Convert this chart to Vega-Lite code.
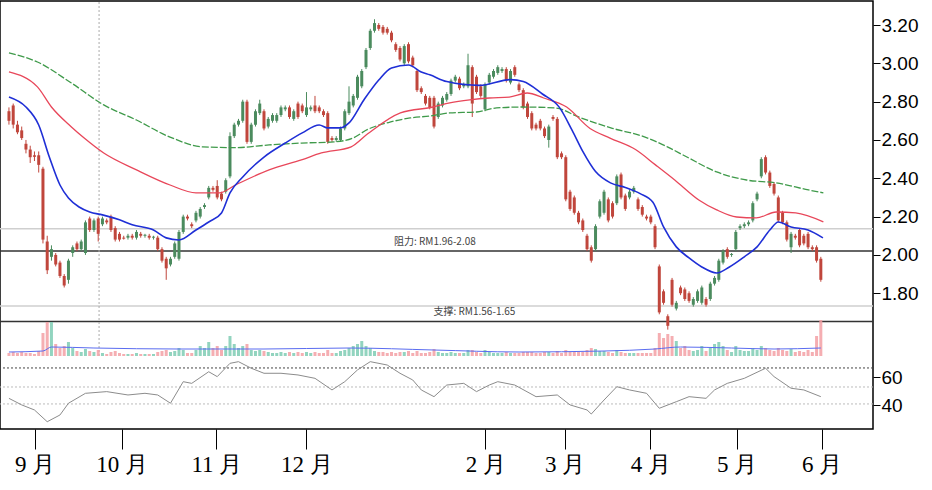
{
"$schema":"https://vega.github.io/schema/vega-lite/v6.json",
"width":873,"height":428,
"autosize":{"type":"none"},
"padding":{"left":0,"top":1,"right":59,"bottom":61},
"background":"white",
"config":{"view":{"stroke":"#000","strokeWidth":1.5},"axis":{"labelFont":"Liberation Sans","labelColor":"#000","tickColor":"#000","domain":false,"grid":false}},
"datasets":{
"k":[
{"i":0,"o":2.75,"c":2.70,"h":2.77,"l":2.68,"v":9},
{"i":1,"o":2.78,"c":2.68,"h":2.79,"l":2.66,"v":12},
{"i":2,"o":2.68,"c":2.64,"h":2.70,"l":2.63,"v":9},
{"i":3,"o":2.65,"c":2.61,"h":2.67,"l":2.60,"v":12},
{"i":4,"o":2.58,"c":2.55,"h":2.60,"l":2.53,"v":9},
{"i":5,"o":2.55,"c":2.51,"h":2.57,"l":2.48,"v":9},
{"i":6,"o":2.52,"c":2.512,"h":2.54,"l":2.49,"v":6},
{"i":7,"o":2.52,"c":2.47,"h":2.54,"l":2.43,"v":15},
{"i":8,"o":2.45,"c":2.08,"h":2.46,"l":2.06,"v":69},
{"i":9,"o":2.07,"c":1.92,"h":2.10,"l":1.90,"v":102},
{"i":10,"o":1.99,"c":2.03,"h":2.05,"l":1.97,"v":102},
{"i":11,"o":2.00,"c":1.95,"h":2.01,"l":1.94,"v":36},
{"i":12,"o":1.96,"c":1.89,"h":1.97,"l":1.88,"v":24},
{"i":13,"o":1.89,"c":1.84,"h":1.90,"l":1.83,"v":30},
{"i":14,"o":1.87,"c":1.97,"h":1.98,"l":1.85,"v":42},
{"i":15,"o":2.01,"c":2.04,"h":2.05,"l":1.99,"v":24},
{"i":16,"o":2.06,"c":2.03,"h":2.07,"l":2.02,"v":15},
{"i":17,"o":2.03,"c":2.07,"h":2.08,"l":2.02,"v":12},
{"i":18,"o":2.01,"c":2.17,"h":2.18,"l":2.00,"v":21},
{"i":19,"o":2.19,"c":2.13,"h":2.20,"l":2.12,"v":15},
{"i":20,"o":2.13,"c":2.18,"h":2.19,"l":2.12,"v":12},
{"i":21,"o":2.19,"c":2.11,"h":2.20,"l":2.07,"v":18},
{"i":22,"o":2.16,"c":2.19,"h":2.20,"l":2.15,"v":9},
{"i":23,"o":2.18,"c":2.17,"h":2.19,"l":2.16,"v":6},
{"i":24,"o":2.20,"c":2.13,"h":2.21,"l":2.12,"v":12},
{"i":25,"o":2.14,"c":2.08,"h":2.15,"l":2.07,"v":15},
{"i":26,"o":2.11,"c":2.08,"h":2.12,"l":2.07,"v":9},
{"i":27,"o":2.09,"c":2.085,"h":2.10,"l":2.08,"v":6},
{"i":28,"o":2.09,"c":2.10,"h":2.11,"l":2.08,"v":6},
{"i":29,"o":2.10,"c":2.09,"h":2.11,"l":2.08,"v":6},
{"i":30,"o":2.09,"c":2.12,"h":2.13,"l":2.08,"v":9},
{"i":31,"o":2.11,"c":2.10,"h":2.12,"l":2.09,"v":6},
{"i":32,"o":2.10,"c":2.105,"h":2.11,"l":2.09,"v":6},
{"i":33,"o":2.10,"c":2.09,"h":2.11,"l":2.08,"v":6},
{"i":34,"o":2.09,"c":2.095,"h":2.10,"l":2.08,"v":6},
{"i":35,"o":2.09,"c":2.03,"h":2.10,"l":2.02,"v":12},
{"i":36,"o":2.03,"c":1.97,"h":2.04,"l":1.96,"v":15},
{"i":37,"o":1.98,"c":1.93,"h":1.99,"l":1.87,"v":18},
{"i":38,"o":1.95,"c":1.98,"h":1.99,"l":1.94,"v":12},
{"i":39,"o":1.99,"c":2.06,"h":2.07,"l":1.98,"v":15},
{"i":40,"o":1.98,"c":2.12,"h":2.13,"l":1.97,"v":24},
{"i":41,"o":2.12,"c":2.20,"h":2.21,"l":2.11,"v":18},
{"i":42,"o":2.20,"c":2.19,"h":2.21,"l":2.18,"v":9},
{"i":43,"o":2.16,"c":2.15,"h":2.17,"l":2.14,"v":9},
{"i":44,"o":2.18,"c":2.22,"h":2.23,"l":2.17,"v":18},
{"i":45,"o":2.20,"c":2.24,"h":2.25,"l":2.19,"v":30},
{"i":46,"o":2.25,"c":2.26,"h":2.27,"l":2.24,"v":24},
{"i":47,"o":2.30,"c":2.35,"h":2.36,"l":2.29,"v":42},
{"i":48,"o":2.35,"c":2.34,"h":2.36,"l":2.33,"v":24},
{"i":49,"o":2.36,"c":2.30,"h":2.39,"l":2.29,"v":30},
{"i":50,"o":2.32,"c":2.29,"h":2.33,"l":2.28,"v":18},
{"i":51,"o":2.33,"c":2.39,"h":2.40,"l":2.32,"v":30},
{"i":52,"o":2.41,"c":2.62,"h":2.64,"l":2.40,"v":60},
{"i":53,"o":2.62,"c":2.68,"h":2.69,"l":2.61,"v":36},
{"i":54,"o":2.68,"c":2.70,"h":2.71,"l":2.67,"v":24},
{"i":55,"o":2.70,"c":2.80,"h":2.81,"l":2.69,"v":30},
{"i":56,"o":2.80,"c":2.59,"h":2.81,"l":2.58,"v":36},
{"i":57,"o":2.59,"c":2.68,"h":2.69,"l":2.58,"v":18},
{"i":58,"o":2.68,"c":2.75,"h":2.76,"l":2.67,"v":15},
{"i":59,"o":2.74,"c":2.79,"h":2.81,"l":2.73,"v":18},
{"i":60,"o":2.75,"c":2.66,"h":2.76,"l":2.65,"v":15},
{"i":61,"o":2.67,"c":2.71,"h":2.72,"l":2.66,"v":12},
{"i":62,"o":2.70,"c":2.73,"h":2.74,"l":2.69,"v":9},
{"i":63,"o":2.70,"c":2.73,"h":2.74,"l":2.69,"v":9},
{"i":64,"o":2.73,"c":2.77,"h":2.78,"l":2.72,"v":12},
{"i":65,"o":2.76,"c":2.77,"h":2.78,"l":2.75,"v":9},
{"i":66,"o":2.77,"c":2.72,"h":2.78,"l":2.71,"v":12},
{"i":67,"o":2.71,"c":2.75,"h":2.76,"l":2.70,"v":9},
{"i":68,"o":2.79,"c":2.72,"h":2.80,"l":2.71,"v":12},
{"i":69,"o":2.78,"c":2.75,"h":2.79,"l":2.74,"v":9},
{"i":70,"o":2.73,"c":2.77,"h":2.85,"l":2.72,"v":12},
{"i":71,"o":2.76,"c":2.77,"h":2.78,"l":2.75,"v":9},
{"i":72,"o":2.78,"c":2.75,"h":2.83,"l":2.74,"v":12},
{"i":73,"o":2.77,"c":2.75,"h":2.78,"l":2.74,"v":9},
{"i":74,"o":2.75,"c":2.73,"h":2.76,"l":2.72,"v":9},
{"i":75,"o":2.74,"c":2.59,"h":2.75,"l":2.58,"v":18},
{"i":76,"o":2.61,"c":2.60,"h":2.62,"l":2.59,"v":9},
{"i":77,"o":2.60,"c":2.61,"h":2.62,"l":2.59,"v":9},
{"i":78,"o":2.60,"c":2.66,"h":2.67,"l":2.59,"v":15},
{"i":79,"o":2.66,"c":2.75,"h":2.76,"l":2.65,"v":18},
{"i":80,"o":2.74,"c":2.80,"h":2.88,"l":2.73,"v":24},
{"i":81,"o":2.78,"c":2.83,"h":2.84,"l":2.77,"v":30},
{"i":82,"o":2.82,"c":2.93,"h":2.94,"l":2.81,"v":36},
{"i":83,"o":2.88,"c":2.96,"h":2.97,"l":2.87,"v":45},
{"i":84,"o":2.98,"c":3.07,"h":3.08,"l":2.97,"v":30},
{"i":85,"o":3.08,"c":3.17,"h":3.18,"l":3.07,"v":24},
{"i":86,"o":3.17,"c":3.21,"h":3.23,"l":3.16,"v":15},
{"i":87,"o":3.20,"c":3.18,"h":3.21,"l":3.17,"v":12},
{"i":88,"o":3.19,"c":3.16,"h":3.20,"l":3.15,"v":12},
{"i":89,"o":3.18,"c":3.16,"h":3.19,"l":3.15,"v":9},
{"i":90,"o":3.16,"c":3.12,"h":3.17,"l":3.11,"v":12},
{"i":91,"o":3.10,"c":3.07,"h":3.11,"l":3.06,"v":9},
{"i":92,"o":3.08,"c":3.02,"h":3.09,"l":3.01,"v":12},
{"i":93,"o":3.00,"c":3.09,"h":3.10,"l":2.99,"v":12},
{"i":94,"o":3.10,"c":3.01,"h":3.11,"l":3.00,"v":15},
{"i":95,"o":3.03,"c":2.99,"h":3.04,"l":2.98,"v":9},
{"i":96,"o":2.96,"c":2.86,"h":2.97,"l":2.85,"v":15},
{"i":97,"o":2.87,"c":2.85,"h":2.88,"l":2.84,"v":9},
{"i":98,"o":2.83,"c":2.79,"h":2.84,"l":2.78,"v":9},
{"i":99,"o":2.82,"c":2.77,"h":2.83,"l":2.76,"v":12},
{"i":100,"o":2.82,"c":2.67,"h":2.83,"l":2.66,"v":21},
{"i":101,"o":2.72,"c":2.79,"h":2.80,"l":2.71,"v":12},
{"i":102,"o":2.78,"c":2.82,"h":2.83,"l":2.77,"v":9},
{"i":103,"o":2.81,"c":2.84,"h":2.85,"l":2.80,"v":9},
{"i":104,"o":2.84,"c":2.91,"h":2.92,"l":2.83,"v":12},
{"i":105,"o":2.91,"c":2.93,"h":2.94,"l":2.90,"v":9},
{"i":106,"o":2.92,"c":2.87,"h":2.93,"l":2.86,"v":9},
{"i":107,"o":2.88,"c":2.89,"h":2.90,"l":2.87,"v":9},
{"i":108,"o":2.88,"c":2.99,"h":3.05,"l":2.87,"v":18},
{"i":109,"o":2.98,"c":2.79,"h":2.99,"l":2.72,"v":18},
{"i":110,"o":2.93,"c":2.85,"h":2.94,"l":2.84,"v":12},
{"i":111,"o":2.88,"c":2.83,"h":2.89,"l":2.82,"v":9},
{"i":112,"o":2.76,"c":2.89,"h":2.90,"l":2.75,"v":18},
{"i":113,"o":2.90,"c":2.94,"h":2.95,"l":2.89,"v":12},
{"i":114,"o":2.93,"c":2.96,"h":2.97,"l":2.92,"v":9},
{"i":115,"o":2.95,"c":2.98,"h":2.99,"l":2.94,"v":9},
{"i":116,"o":2.96,"c":2.97,"h":2.98,"l":2.95,"v":9},
{"i":117,"o":2.97,"c":2.91,"h":2.98,"l":2.90,"v":12},
{"i":118,"o":2.90,"c":2.96,"h":2.97,"l":2.89,"v":9},
{"i":119,"o":2.98,"c":2.94,"h":2.99,"l":2.93,"v":9},
{"i":120,"o":2.89,"c":2.86,"h":2.90,"l":2.85,"v":9},
{"i":121,"o":2.86,"c":2.77,"h":2.87,"l":2.76,"v":12},
{"i":122,"o":2.79,"c":2.72,"h":2.80,"l":2.71,"v":12},
{"i":123,"o":2.74,"c":2.66,"h":2.75,"l":2.65,"v":12},
{"i":124,"o":2.68,"c":2.66,"h":2.69,"l":2.65,"v":9},
{"i":125,"o":2.70,"c":2.66,"h":2.71,"l":2.65,"v":9},
{"i":126,"o":2.66,"c":2.62,"h":2.67,"l":2.61,"v":12},
{"i":127,"o":2.60,"c":2.67,"h":2.68,"l":2.56,"v":12},
{"i":128,"o":2.72,"c":2.71,"h":2.73,"l":2.70,"v":9},
{"i":129,"o":2.71,"c":2.51,"h":2.72,"l":2.50,"v":15},
{"i":130,"o":2.53,"c":2.51,"h":2.54,"l":2.50,"v":9},
{"i":131,"o":2.51,"c":2.29,"h":2.52,"l":2.28,"v":18},
{"i":132,"o":2.33,"c":2.24,"h":2.34,"l":2.23,"v":12},
{"i":133,"o":2.30,"c":2.22,"h":2.31,"l":2.21,"v":12},
{"i":134,"o":2.22,"c":2.17,"h":2.23,"l":2.16,"v":12},
{"i":135,"o":2.18,"c":2.13,"h":2.19,"l":2.12,"v":12},
{"i":136,"o":2.10,"c":2.03,"h":2.11,"l":2.02,"v":18},
{"i":137,"o":2.04,"c":1.97,"h":2.05,"l":1.96,"v":24},
{"i":138,"o":2.03,"c":2.15,"h":2.16,"l":2.02,"v":21},
{"i":139,"o":2.20,"c":2.28,"h":2.29,"l":2.19,"v":15},
{"i":140,"o":2.22,"c":2.33,"h":2.34,"l":2.21,"v":15},
{"i":141,"o":2.29,"c":2.18,"h":2.30,"l":2.17,"v":12},
{"i":142,"o":2.27,"c":2.20,"h":2.28,"l":2.19,"v":9},
{"i":143,"o":2.27,"c":2.41,"h":2.42,"l":2.26,"v":18},
{"i":144,"o":2.42,"c":2.30,"h":2.43,"l":2.29,"v":12},
{"i":145,"o":2.31,"c":2.24,"h":2.32,"l":2.23,"v":9},
{"i":146,"o":2.30,"c":2.33,"h":2.34,"l":2.29,"v":9},
{"i":147,"o":2.33,"c":2.35,"h":2.36,"l":2.32,"v":9},
{"i":148,"o":2.29,"c":2.24,"h":2.30,"l":2.23,"v":9},
{"i":149,"o":2.25,"c":2.21,"h":2.26,"l":2.20,"v":9},
{"i":150,"o":2.20,"c":2.19,"h":2.21,"l":2.18,"v":9},
{"i":151,"o":2.20,"c":2.17,"h":2.21,"l":2.16,"v":9},
{"i":152,"o":2.15,"c":2.04,"h":2.16,"l":2.03,"v":24},
{"i":153,"o":1.94,"c":1.70,"h":1.95,"l":1.69,"v":69},
{"i":154,"o":1.81,"c":1.75,"h":1.82,"l":1.74,"v":54},
{"i":155,"o":1.68,"c":1.63,"h":1.69,"l":1.61,"v":66},
{"i":156,"o":1.87,"c":1.74,"h":1.88,"l":1.73,"v":60},
{"i":157,"o":1.72,"c":1.75,"h":1.76,"l":1.71,"v":45},
{"i":158,"o":1.83,"c":1.80,"h":1.84,"l":1.79,"v":24},
{"i":159,"o":1.82,"c":1.77,"h":1.83,"l":1.76,"v":30},
{"i":160,"o":1.80,"c":1.76,"h":1.81,"l":1.75,"v":18},
{"i":161,"o":1.74,"c":1.77,"h":1.78,"l":1.73,"v":15},
{"i":162,"o":1.76,"c":1.81,"h":1.82,"l":1.75,"v":18},
{"i":163,"o":1.75,"c":1.83,"h":1.84,"l":1.74,"v":30},
{"i":164,"o":1.77,"c":1.74,"h":1.78,"l":1.73,"v":15},
{"i":165,"o":1.77,"c":1.85,"h":1.86,"l":1.76,"v":24},
{"i":166,"o":1.85,"c":1.88,"h":1.89,"l":1.84,"v":36},
{"i":167,"o":1.87,"c":1.97,"h":1.98,"l":1.86,"v":42},
{"i":168,"o":1.96,"c":2.02,"h":2.03,"l":1.95,"v":30},
{"i":169,"o":2.03,"c":1.99,"h":2.04,"l":1.98,"v":18},
{"i":170,"o":2.00,"c":2.005,"h":2.01,"l":1.99,"v":12},
{"i":171,"o":2.03,"c":2.12,"h":2.13,"l":2.02,"v":30},
{"i":172,"o":2.14,"c":2.15,"h":2.16,"l":2.13,"v":18},
{"i":173,"o":2.15,"c":2.16,"h":2.17,"l":2.14,"v":15},
{"i":174,"o":2.16,"c":2.17,"h":2.18,"l":2.15,"v":15},
{"i":175,"o":2.18,"c":2.27,"h":2.28,"l":2.17,"v":24},
{"i":176,"o":2.29,"c":2.32,"h":2.33,"l":2.28,"v":18},
{"i":177,"o":2.41,"c":2.50,"h":2.51,"l":2.40,"v":30},
{"i":178,"o":2.51,"c":2.43,"h":2.52,"l":2.42,"v":24},
{"i":179,"o":2.43,"c":2.36,"h":2.44,"l":2.35,"v":18},
{"i":180,"o":2.37,"c":2.32,"h":2.38,"l":2.31,"v":15},
{"i":181,"o":2.30,"c":2.18,"h":2.31,"l":2.17,"v":24},
{"i":182,"o":2.22,"c":2.17,"h":2.23,"l":2.16,"v":18},
{"i":183,"o":2.17,"c":2.08,"h":2.18,"l":2.07,"v":15},
{"i":184,"o":2.04,"c":2.11,"h":2.12,"l":2.01,"v":21},
{"i":185,"o":2.10,"c":2.09,"h":2.11,"l":2.08,"v":12},
{"i":186,"o":2.13,"c":2.05,"h":2.14,"l":2.04,"v":15},
{"i":187,"o":2.10,"c":2.06,"h":2.11,"l":2.05,"v":12},
{"i":188,"o":2.11,"c":2.04,"h":2.12,"l":2.03,"v":18},
{"i":189,"o":2.04,"c":2.03,"h":2.05,"l":2.02,"v":12},
{"i":190,"o":2.04,"c":1.97,"h":2.05,"l":1.96,"v":60},
{"i":191,"o":1.98,"c":1.87,"h":1.99,"l":1.86,"v":108}
],
"ma20":[
{"i":0,"p":2.824},{"i":4,"p":2.772},{"i":7,"p":2.678},{"i":9.5,"p":2.511},{"i":12,"p":2.365},{"i":14,"p":2.297},{"i":16.5,"p":2.25},{"i":19,"p":2.224},{"i":22,"p":2.209},{"i":26,"p":2.183},{"i":29,"p":2.157},{"i":34,"p":2.13},{"i":37,"p":2.089},{"i":40,"p":2.078},{"i":44,"p":2.13},{"i":47,"p":2.172},{"i":50,"p":2.219},{"i":52,"p":2.324},{"i":55,"p":2.407},{"i":60,"p":2.511},{"i":65,"p":2.584},{"i":69,"p":2.637},{"i":73,"p":2.678},{"i":75,"p":2.663},{"i":78,"p":2.663},{"i":80,"p":2.689},{"i":83.5,"p":2.809},{"i":87,"p":2.913},{"i":90,"p":2.976},{"i":94,"p":2.991},{"i":97,"p":2.955},{"i":99,"p":2.94},{"i":103,"p":2.905},{"i":110.7,"p":2.885},{"i":118,"p":2.915},{"i":121,"p":2.905},{"i":125.5,"p":2.84},{"i":129.5,"p":2.77},{"i":132.5,"p":2.65},{"i":135,"p":2.54},{"i":138,"p":2.435},{"i":141.5,"p":2.376},{"i":145,"p":2.352},{"i":148.5,"p":2.32},{"i":151.5,"p":2.275},{"i":154,"p":2.146},{"i":157,"p":2.042},{"i":160,"p":1.984},{"i":163,"p":1.937},{"i":166.5,"p":1.906},{"i":169.5,"p":1.937},{"i":173,"p":1.99},{"i":176,"p":2.042},{"i":179,"p":2.13},{"i":181,"p":2.172},{"i":184,"p":2.146},{"i":188,"p":2.13},{"i":191.5,"p":2.089}
],
"ma60":[
{"i":0,"p":2.955},{"i":6.7,"p":2.877},{"i":10,"p":2.772},{"i":14.7,"p":2.668},{"i":17.7,"p":2.61},{"i":22.3,"p":2.532},{"i":30,"p":2.444},{"i":37.9,"p":2.365},{"i":44,"p":2.324},{"i":49.5,"p":2.324},{"i":53.3,"p":2.365},{"i":61.2,"p":2.444},{"i":68.8,"p":2.496},{"i":73.5,"p":2.532},{"i":80.5,"p":2.564},{"i":84.4,"p":2.632},{"i":92.1,"p":2.741},{"i":99.8,"p":2.772},{"i":103.7,"p":2.793},{"i":108.4,"p":2.809},{"i":113,"p":2.819},{"i":117.7,"p":2.824},{"i":121.9,"p":2.845},{"i":125.8,"p":2.819},{"i":131.2,"p":2.772},{"i":136.7,"p":2.66},{"i":141.4,"p":2.61},{"i":147.4,"p":2.55},{"i":152.1,"p":2.47},{"i":156.7,"p":2.39},{"i":162.3,"p":2.287},{"i":166.5,"p":2.235},{"i":171.2,"p":2.198},{"i":175.8,"p":2.193},{"i":180.5,"p":2.224},{"i":185.1,"p":2.219},{"i":191.6,"p":2.172}
],
"ma120":[
{"i":0,"p":3.054},{"i":6.7,"p":3.007},{"i":14.7,"p":2.897},{"i":22.3,"p":2.783},{"i":30,"p":2.704},{"i":37.9,"p":2.615},{"i":45.6,"p":2.564},{"i":53.3,"p":2.56},{"i":61.2,"p":2.574},{"i":68.8,"p":2.584},{"i":76.5,"p":2.59},{"i":80.9,"p":2.61},{"i":84.4,"p":2.655},{"i":89.8,"p":2.694},{"i":94.4,"p":2.715},{"i":99,"p":2.725},{"i":103.7,"p":2.741},{"i":110,"p":2.746},{"i":114.7,"p":2.767},{"i":120.7,"p":2.772},{"i":128.6,"p":2.767},{"i":134,"p":2.72},{"i":141.6,"p":2.663},{"i":149.5,"p":2.616},{"i":154.9,"p":2.564},{"i":159.5,"p":2.511},{"i":166.5,"p":2.433},{"i":173.5,"p":2.391},{"i":180.5,"p":2.376},{"i":188.1,"p":2.339},{"i":191.6,"p":2.324}
],
"volma":[
{"i":0,"v":12},{"i":8,"v":15},{"i":10,"v":27},{"i":20,"v":24},{"i":40,"v":21},{"i":60,"v":21},{"i":80,"v":24},{"i":100,"v":18},{"i":120,"v":12},{"i":140,"v":15},{"i":152,"v":21},{"i":158,"v":27},{"i":170,"v":24},{"i":180,"v":21},{"i":191,"v":24}
],
"rsi":[
{"i":0,"r":45.1},{"i":3,"r":40.4},{"i":6,"r":36.8},{"i":9,"r":28.4},{"i":12,"r":33.2},{"i":14,"r":41.6},{"i":18,"r":48.7},{"i":23,"r":49.9},{"i":28,"r":47.5},{"i":32,"r":48.7},{"i":35,"r":47.5},{"i":38,"r":41.6},{"i":41,"r":57.0},{"i":43,"r":55.8},{"i":47,"r":64.1},{"i":49,"r":60.6},{"i":52,"r":70.1},{"i":54,"r":71.3},{"i":57,"r":66.6},{"i":60,"r":63.0},{"i":64,"r":63.0},{"i":68,"r":61.8},{"i":72,"r":59.4},{"i":76,"r":51.1},{"i":79,"r":57.0},{"i":82,"r":65.4},{"i":85,"r":71.3},{"i":89,"r":68.9},{"i":92,"r":63.0},{"i":95,"r":58.2},{"i":97,"r":51.1},{"i":100,"r":46.3},{"i":103,"r":54.6},{"i":107,"r":55.8},{"i":110,"r":49.9},{"i":113,"r":54.6},{"i":115,"r":57.0},{"i":119,"r":54.6},{"i":124,"r":46.3},{"i":129,"r":47.5},{"i":132,"r":40.4},{"i":136,"r":36.8},{"i":137,"r":33.9},{"i":140,"r":43.9},{"i":143,"r":53.4},{"i":146,"r":51.1},{"i":150,"r":48.7},{"i":153,"r":38.0},{"i":157,"r":42.7},{"i":160,"r":46.3},{"i":164,"r":45.1},{"i":166,"r":51.1},{"i":169,"r":55.8},{"i":173,"r":59.4},{"i":178,"r":66.6},{"i":180,"r":60.6},{"i":184,"r":52.3},{"i":187,"r":51.1},{"i":191,"r":46.3}
]
},
"resolve":{"scale":{"y":"independent"},"axis":{"y":"independent"}},
"layer":[
{
"layer":[
{"data":{"values":[{"p":2.136},{"p":1.734}]},"mark":{"type":"rule","color":"#cfcfcf","strokeWidth":1.5},"encoding":{"y":{"field":"p","type":"quantitative","title":null,"scale":{"domain":[1.0914,3.3253],"nice":false,"zero":false}}}},
{"data":{"values":[{"p":2.021},{"p":1.652}]},"mark":{"type":"rule","color":"#333","strokeWidth":1.5},"encoding":{"y":{"field":"p","type":"quantitative","title":null}}},
{"data":{"values":[{"i":21.2}]},"mark":{"type":"rule","color":"#aaa","strokeDash":[2,2],"strokeWidth":1},"encoding":{"x":{"field":"i","type":"quantitative","title":null,"scale":{"domain":[-0.93,202.1],"nice":false,"zero":false}},"y":{"datum":3.32},"y2":{"datum":1.47}}},
{"data":{"name":"k"},"mark":{"type":"rule","strokeWidth":1},
 "encoding":{
  "x":{"field":"i","type":"quantitative","title":null,"scale":{"domain":[-0.93,202.1],"nice":false,"zero":false},
   "axis":{"values":[6.05,26.5,48.8,70,112.1,130.7,150.9,171.2,191.2],"labelExpr":"datum.value<10?'9 月':datum.value<30?'10 月':datum.value<60?'11 月':datum.value<100?'12 月':datum.value<120?'2 月':datum.value<140?'3 月':datum.value<160?'4 月':datum.value<180?'5 月':'6 月'","tickSize":20,"tickWidth":1,"labelFontSize":23,"labelFont":"Liberation Sans Narrow","labelPadding":4,"labelOverlap":false,"labelFlush":false,"title":null}},
  "y":{"field":"l","type":"quantitative","title":null,"scale":{"domain":[1.0914,3.3253],"nice":false,"zero":false},
   "axis":{"orient":"right","values":[1.8,1.9,2.0,2.1,2.2,2.3,2.4,2.5,2.6,2.7,2.8,2.9,3.0,3.1,3.2],"format":".2f","labelFontSize":19,"tickSize":7,"labelPadding":1,"labelOverlap":false,"title":null}},
  "y2":{"field":"h"},
  "color":{"condition":{"test":"datum.c >= datum.o","value":"#4b8b5e"},"value":"#c0463c"}}},
{"data":{"name":"k"},"mark":{"type":"bar","size":3},
 "encoding":{
  "x":{"field":"i","type":"quantitative","title":null,"scale":{"domain":[-0.93,202.1],"nice":false,"zero":false}},
  "y":{"field":"o","type":"quantitative","title":null},
  "y2":{"field":"c"},
  "color":{"condition":{"test":"datum.c >= datum.o","value":"#4b8b5e"},"value":"#c0463c"}}},
{"data":{"name":"ma120"},"mark":{"type":"line","color":"#3f9a4a","strokeWidth":1.3,"strokeDash":[7,2],"interpolate":"monotone"},
 "encoding":{"x":{"field":"i","type":"quantitative","title":null,"scale":{"domain":[-0.93,202.1],"nice":false,"zero":false}},"y":{"field":"p","type":"quantitative","title":null}}},
{"data":{"name":"ma60"},"mark":{"type":"line","color":"#e8475a","strokeWidth":1.3,"interpolate":"monotone"},
 "encoding":{"x":{"field":"i","type":"quantitative","title":null,"scale":{"domain":[-0.93,202.1],"nice":false,"zero":false}},"y":{"field":"p","type":"quantitative","title":null}}},
{"data":{"name":"ma20"},"mark":{"type":"line","color":"#1f2fd6","strokeWidth":1.6,"interpolate":"monotone"},
 "encoding":{"x":{"field":"i","type":"quantitative","title":null,"scale":{"domain":[-0.93,202.1],"nice":false,"zero":false}},"y":{"field":"p","type":"quantitative","title":null}}},
{"data":{"values":[{"i":100.2,"p":2.068,"t":"阻力: RM1.96-2.08"},{"i":109.5,"p":1.703,"t":"支撑: RM1.56-1.65"}]},"mark":{"type":"text","fontSize":10,"font":"Noto Sans CJK SC","color":"#444"},
 "encoding":{"x":{"field":"i","type":"quantitative","title":null,"scale":{"domain":[-0.93,202.1],"nice":false,"zero":false}},"y":{"field":"p","type":"quantitative","title":null},"text":{"field":"t"}}}
]
},
{
"layer":[
{"data":{"name":"k"},"mark":{"type":"bar","size":3,"opacity":0.85},
 "encoding":{
  "x":{"field":"i","type":"quantitative","title":null,"scale":{"domain":[-0.93,202.1],"nice":false,"zero":false}},
  "y":{"field":"v","type":"quantitative","scale":{"domain":[-219,1065],"nice":false,"zero":false},"axis":null},
  "y2":{"datum":0},
  "color":{"condition":{"test":"datum.c >= datum.o","value":"#7fcdb4"},"value":"#f3a0a4"}}},
{"data":{"name":"volma"},"mark":{"type":"line","color":"#5a6cf0","strokeWidth":1,"interpolate":"monotone"},
 "encoding":{"x":{"field":"i","type":"quantitative","title":null,"scale":{"domain":[-0.93,202.1],"nice":false,"zero":false}},"y":{"field":"v","type":"quantitative","axis":null}}}
]
},
{
"layer":[
{"data":{"values":[{"r":53.2},{"r":41.1}]},"mark":{"type":"rule","color":"#bbb","strokeDash":[2,2],"strokeWidth":1},
 "encoding":{"y":{"field":"r","type":"quantitative","title":null,"scale":{"domain":[23.2,328.9],"nice":false,"zero":false},
  "axis":{"orient":"right","values":[40,60],"labelFontSize":19,"tickSize":7,"labelPadding":1,"labelOverlap":false,"title":null}}}},
{"data":{"values":[{"r":66.8}]},"mark":{"type":"rule","color":"#444","strokeDash":[2,2],"strokeWidth":1},
 "encoding":{"y":{"field":"r","type":"quantitative","title":null}}},
{"data":{"name":"rsi"},"mark":{"type":"line","color":"#8c8c8c","strokeWidth":1},
 "encoding":{"x":{"field":"i","type":"quantitative","title":null,"scale":{"domain":[-0.93,202.1],"nice":false,"zero":false}},"y":{"field":"r","type":"quantitative","title":null}}}
]
}
]
}
